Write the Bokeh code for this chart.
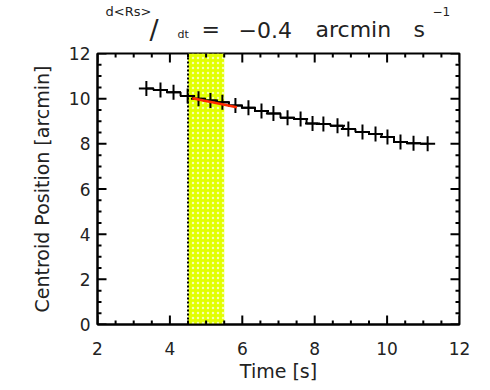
from bokeh.plotting import figure
from bokeh.models import FixedTicker, Range1d, Span
from bokeh.layouts import column
from bokeh.core.properties import value
from bokeh.embed import file_html
from bokeh.resources import INLINE

# --- data ---
time_s = [3.35, 3.74, 4.10, 4.49, 4.79, 5.12, 5.45, 5.81, 6.17, 6.53, 6.86, 7.25,
          7.61, 7.94, 8.24, 8.63, 8.93, 9.32, 9.68, 10.01, 10.37, 10.73, 11.12]
centroid = [10.45, 10.38, 10.28, 10.12, 10.00, 9.92, 9.84, 9.70, 9.60, 9.45, 9.34, 9.15,
            9.10, 8.90, 8.88, 8.80, 8.66, 8.52, 8.44, 8.30, 8.08, 8.03, 8.00]
fit_t = [4.62, 5.85]
fit_y = [10.02, 9.62]
band_left = 4.5
band_right = 5.5
x_major = [2, 4, 6, 8, 10, 12]
y_major = [0, 2, 4, 6, 8, 10, 12]
x_minor = [2.5, 3, 3.5, 4.5, 5, 5.5, 6.5, 7, 7.5, 8.5, 9, 9.5, 10.5, 11, 11.5]
y_minor = [0.5, 1, 1.5, 2.5, 3, 3.5, 4.5, 5, 5.5, 6.5, 7, 7.5, 8.5, 9, 9.5, 10.5, 11, 11.5]
title_texts = ["d<Rs>", "/", "dt", "=", "\u22120.4", "arcmin", "s", "\u22121"]

FONT = "DejaVu Sans"
TXT = "#222222"
X0, X1, Y0, Y1 = 2, 12, 0, 12
FW, FH = 362, 271
ML, MR, MB = 97, 23, 58
TITLE_H = 45

# ---------- title strip (its frame is aligned with the plot frame; x in page px) ----------
tf = figure(frame_width=FW, frame_height=TITLE_H, output_backend="svg", toolbar_location=None,
            x_range=Range1d(ML, ML + FW), y_range=Range1d(0, TITLE_H),
            min_border_left=ML, min_border_right=MR, min_border_top=0, min_border_bottom=0,
            outline_line_color=None)
tf.axis.visible = False
tf.grid.visible = False
tf.background_fill_color = "white"
tf.border_fill_color = "white"
# layout of title pieces (page px from left, px from strip bottom, font size)
title_x = [105, 149, 177, 201, 238, 315, 413, 432]
title_y = [34, 16, 11, 16, 16, 16, 16, 34]
title_fs = ["13px", "27px", "11px", "22px", "22px", "22px", "22px", "12px"]
for t, x, y, fs in zip(title_texts, title_x, title_y, title_fs):
    tf.text(x=[x], y=[y], text=[t], text_font=value(FONT), text_font_size=fs,
            text_color=TXT, text_baseline="alphabetic", text_align="left")

# ---------- main plot ----------
p = figure(frame_width=FW, frame_height=FH, output_backend="svg", toolbar_location=None,
           x_range=Range1d(X0, X1), y_range=Range1d(Y0, Y1),
           min_border_left=ML, min_border_right=MR, min_border_top=8, min_border_bottom=MB)
p.background_fill_color = "white"
p.border_fill_color = "white"
p.outline_line_color = "black"
p.outline_line_width = 2
p.xgrid.visible = False
p.ygrid.visible = False

# yellow band
p.quad(left=[band_left], right=[band_right], bottom=[Y0], top=[Y1],
       fill_color="#e2ff00", line_color=None,
       hatch_pattern="dot", hatch_color="white", hatch_alpha=0.7,
       hatch_scale=5, hatch_weight=2.5)
p.add_layout(Span(location=band_left, dimension="height", line_color="black",
                  line_width=2, line_dash="2 2"))

# data
p.step(time_s, centroid, mode="center", line_color="black", line_width=2)
p.scatter(time_s, centroid, marker="cross", size=15, line_color="black", line_width=2)
p.line(fit_t, fit_y, line_color="#ff2a00", line_width=2.5)

# inward ticks on all four sides (lengths in px converted to data units)
def tick_len_x(px):
    return (X1 - X0) * px / FW

def tick_len_y(px):
    return (Y1 - Y0) * px / FH

for ticks, px in ((x_major, 9), (x_minor, 4)):
    ly = tick_len_y(px)
    p.segment(x0=ticks, y0=[Y0] * len(ticks), x1=ticks, y1=[Y0 + ly] * len(ticks),
              line_color="black", line_width=2)
    p.segment(x0=ticks, y0=[Y1] * len(ticks), x1=ticks, y1=[Y1 - ly] * len(ticks),
              line_color="black", line_width=2)
for ticks, px in ((y_major, 9), (y_minor, 4)):
    lx = tick_len_x(px)
    p.segment(x0=[X0] * len(ticks), y0=ticks, x1=[X0 + lx] * len(ticks), y1=ticks,
              line_color="black", line_width=2)
    p.segment(x0=[X1] * len(ticks), y0=ticks, x1=[X1 - lx] * len(ticks), y1=ticks,
              line_color="black", line_width=2)

p.xaxis.ticker = FixedTicker(ticks=x_major, minor_ticks=[])
p.yaxis.ticker = FixedTicker(ticks=y_major, minor_ticks=[])
p.xaxis.axis_label = "Time [s]"
p.yaxis.axis_label = "Centroid Position [arcmin]"
for ax in (p.xaxis[0], p.yaxis[0]):
    ax.axis_line_color = "black"
    ax.axis_line_width = 2
    ax.major_tick_line_color = None
    ax.minor_tick_line_color = None
    ax.major_tick_out = 0
    ax.minor_tick_out = 0
    ax.major_label_text_font = FONT
    ax.major_label_text_font_size = "17px"
    ax.major_label_text_color = TXT
    ax.axis_label_text_font = FONT
    ax.axis_label_text_font_size = "19px"
    ax.axis_label_text_font_style = "normal"
    ax.axis_label_text_color = TXT
p.xaxis.major_label_standoff = 17
p.yaxis.major_label_standoff = 7
p.xaxis.axis_label_standoff = 2
p.yaxis.axis_label_standoff = 13

layout = column(tf, p, spacing=0)
open("out.html", "w").write(file_html(layout, INLINE))
